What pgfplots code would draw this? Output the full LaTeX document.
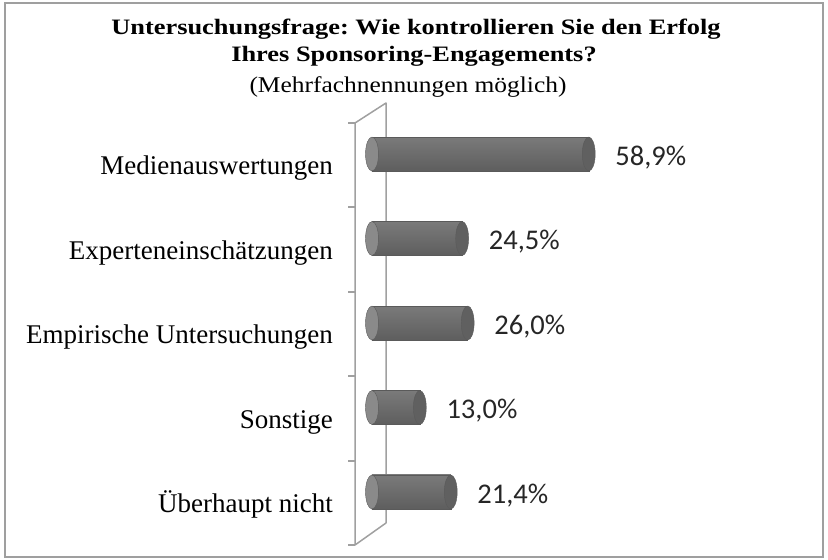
\documentclass[border=0pt]{standalone}
\usepackage{fontspec}
\setmainfont{Liberation Serif}
\newfontfamily\calibri{Carlito}
\usepackage{graphicx}
\usepackage{pgfplots}
\usepackage{pgfplotstable}
\pgfplotsset{compat=1.18}
\frenchspacing
\definecolor{wall}{HTML}{A0A0A0}
\definecolor{bartop}{HTML}{7A7A7A}
\definecolor{barmid}{HTML}{A4A4A4}
\definecolor{barbot}{HTML}{5E5E5E}
\definecolor{capc}{HTML}{606060}
\definecolor{leftc}{HTML}{8A8A8A}
\definecolor{edge}{HTML}{5A5A5A}
\pgfplotstableread{
y v x0 lab
4 58.9 0 58,9
3 24.5 0 24,5
2 26.0 0 26,0
1 13.0 0 13,0
0 21.4 0 21,4
}\datatable
\pgfplotsset{cyl/.style={xbar, bar width=34pt, bar shift=0pt, draw=edge, line width=0.4pt, top color=bartop, middle color=barmid, bottom color=barbot}}
\begin{document}
\begin{tikzpicture}[x=1pt,y=1pt]
\useasboundingbox (0,0) rectangle (828,560);
\draw[gray!75, line width=1.5pt] (5,3) rectangle (823,557);
% title
\node[anchor=base, inner sep=0pt] at (416,525) {\scalebox{1.2}[1]{\fontsize{22}{24}\selectfont\bfseries Untersuchungsfrage: Wie kontrollieren Sie den Erfolg}};
\node[anchor=base, inner sep=0pt] at (414,498) {\scalebox{1.2}[1]{\fontsize{22}{24}\selectfont\bfseries Ihres Sponsoring-Engagements?}};
\node[anchor=base, inner sep=0pt] at (408,467) {\scalebox{1.13}[1]{\fontsize{22.5}{24}\selectfont (Mehrfachnennungen möglich)}};
% wall
\foreach \ty in {437,353,268,184,99,15} \draw[wall, line width=1.5pt] (348,\ty) -- (355,\ty);
\draw[wall, line width=1.5pt, line join=round] (355,437) -- (355,15) -- (386,37) -- (386,457) -- cycle;
\begin{axis}[
  at={(372pt,25.75pt)}, anchor=south west,
  scale only axis, width=368pt, height=422.5pt,
  xmin=0, xmax=100, ymin=-0.5, ymax=4.5,
  clip=false,
  axis x line=none, axis y line=left,
  axis line style={draw=none},
  major tick length=0pt,
  ytick={0,1,2,3,4},
  yticklabels={Überhaupt nicht, Sonstige, Empirische Untersuchungen, Experteneinschätzungen, Medienauswertungen},
  yticklabel style={font=\fontsize{27}{30}\selectfont, anchor=base east, inner sep=0pt, xshift=-39pt, yshift=-20.5pt},
]
\addplot[only marks, mark=*, mark size=17pt, mark options={xscale=0.38, fill=leftc, draw=edge, line width=0.4pt}] table[x=x0, y=y] {\datatable};
\addplot[cyl] coordinates {(58.9,4)};
\addplot[cyl] coordinates {(24.5,3)};
\addplot[cyl] coordinates {(26.0,2)};
\addplot[cyl] coordinates {(13.0,1)};
\addplot[cyl] coordinates {(21.4,0)};
\addplot[only marks, mark=*, mark size=17pt, mark options={xscale=0.38, fill=capc, draw=edge, line width=0.4pt},
  point meta=explicit symbolic,
  nodes near coords={\pgfplotspointmeta\%},
  nodes near coords style={font=\calibri\fontsize{28.5}{30}\selectfont, text=black!85, anchor=base west, inner sep=0pt, xshift=26.5pt, yshift=-11pt}
] table[x=v, y=y, meta=lab] {\datatable};
\end{axis}
\end{tikzpicture}
\end{document}
